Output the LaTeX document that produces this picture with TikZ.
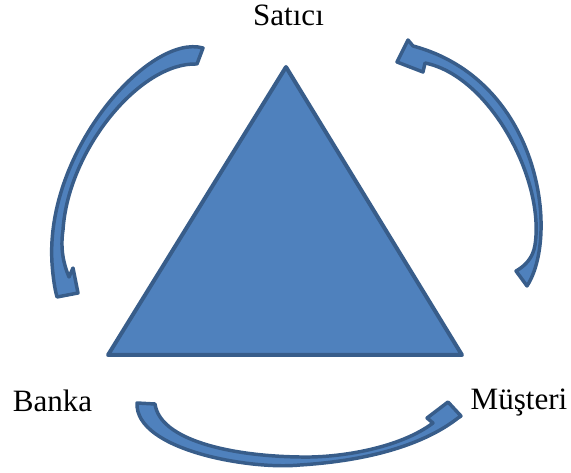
\documentclass[tikz,border=0pt]{standalone}
\usepackage{fontspec}
\setmainfont{Liberation Serif}
\usepackage{tikz}
\usetikzlibrary{positioning}
\definecolor{ofisMavi}{HTML}{4F81BD}
\definecolor{ofisKenar}{HTML}{385D8A}

\begin{document}
\begin{tikzpicture}[x=0.75pt,y=-0.75pt,
    taraf/.style={font=\fontsize{23.3}{28}\selectfont,anchor=base,inner sep=0pt},
    ucgen/.style={fill=ofisMavi,draw=ofisKenar,line width=3pt,line join=round},
    okblok/.style={fill=ofisMavi,draw=ofisKenar,line width=2.6pt,line join=round}]
      \useasboundingbox (0,0) rectangle (571,473);
      % koseler
      \node[taraf] (satici) at (288.5,26) {Satıcı};
      \node[taraf] (banka) at (52.5,412) {Banka};
      \node[taraf] (musteri) at (519,410) {Müşteri};
      % ucgen
      \coordinate (tepe) at (286,67);
      \coordinate (solalt) at (108,355);
      \coordinate (sagalt) at (462,355);
      \draw[ucgen] (tepe) -- (sagalt) -- (solalt) -- cycle;
      % satici -> banka
      \draw[okblok] (203,48) .. controls (150,33) and (45,150) .. (52,263)
            .. controls (53,278) and (55,290) .. (57,297) -- (78,293) -- (73,268)
            -- (69,277) .. controls (64,265) and (60,250) .. (63,230)
            .. controls (68,150) and (140,62) .. (197,64) -- cycle;
      % musteri -> satici
      \draw[okblok] (527,286) .. controls (560,235) and (540,80) .. (413,46)
            -- (408,40) -- (397,62) -- (423,72) -- (425,63)
            .. controls (490,76) and (545,180) .. (535,245)
            .. controls (533,258) and (525,266) .. (516,271) -- cycle;
      % banka -> musteri
      \draw[okblok] (137,403) .. controls (135,450) and (250,470) .. (300,465)
            .. controls (380,460) and (430,440) .. (458,418) -- (461,416)
            -- (448,402) -- (427,418) -- (433,423)
            .. controls (400,448) and (340,458) .. (300,457)
            .. controls (230,456) and (160,440) .. (155,404) -- cycle;
    \end{tikzpicture}
\end{document}
